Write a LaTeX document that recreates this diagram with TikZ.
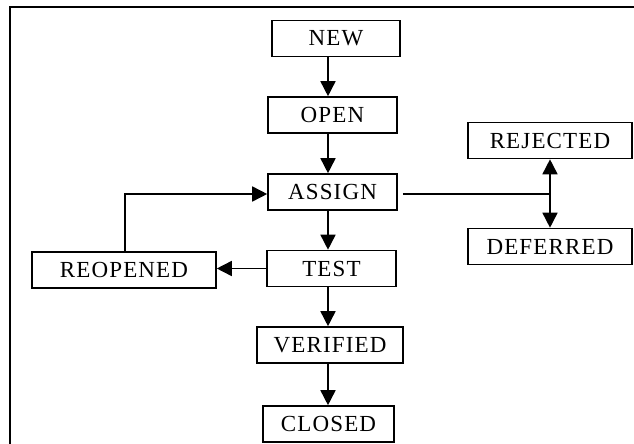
\documentclass[tikz,border=0pt]{standalone}
\usepackage{fontspec}
\setmainfont{Liberation Serif}[LetterSpace=5]
\usetikzlibrary{arrows.meta,positioning}
\tikzstyle{statebox} = [draw, line width=1.6pt, fill=white, text centered, minimum height=36pt, inner sep=0pt, font=\fontsize{23}{27}\selectfont]
\tikzstyle{arrow} = [draw, line width=1.6pt, -{Triangle[width=15pt,length=15pt]}]
\tikzstyle{twoway} = [draw, line width=1.6pt, {Triangle[width=15pt,length=15pt]}-{Triangle[width=15pt,length=15pt]}]
\tikzstyle{line} = [draw, line width=1.6pt]
\tikzstyle{frame} = [draw, line width=2.4pt]
\newcommand{\bugnode}[3]{node (#1) [statebox, minimum width=#2pt] {#3}}

\begin{document}
\begin{tikzpicture}[x=1pt,y=-1pt]
\useasboundingbox (0,0) rectangle (634,444);
\path [frame] (10,444) -- (10,7) -- (634,7);
\coordinate (spine) at (328,0);

\path (336,38.5) \bugnode{new}{128}{NEW};
\path (new)+(-3.5,76.5) \bugnode{open}{129}{OPEN};
\path [arrow] (new.south -| spine) -- (open.north -| spine) node[] {};
\path (open)+(0,77) \bugnode{assign}{129}{ASSIGN};
\path [arrow] (open.south -| spine) -- (assign.north -| spine) node[] {};
\path (assign)+(-1,76.5) \bugnode{test}{129}{TEST};
\path [arrow] (assign.south -| spine) -- (test.north -| spine) node[] {};
\path (test)+(-1.5,76.5) \bugnode{verified}{146}{VERIFIED};
\path [arrow] (test.south -| spine) -- (verified.north -| spine) node[] {};
\path (verified)+(-1.5,79) \bugnode{closed}{131}{CLOSED};
\path [arrow] (verified.south -| spine) -- (closed.north -| spine) node[] {};

\path (test)+(-207.5,1.5) \bugnode{reopened}{184}{REOPENED};
\path [arrow] (test.west) -- (test.west -| reopened.east) node[] {};
\path [arrow] ([xshift=1pt]reopened.north) |- ([yshift=-2pt]assign.west) node[] {};

\path (assign)+(217.5,-51.5) \bugnode{rejected}{164}{REJECTED};
\path (rejected)+(0,106) \bugnode{deferred}{164}{DEFERRED};
\path [line] ([xshift=5pt,yshift=-2pt]assign.east) -- ([yshift=-2pt]assign.east -| rejected.south) node[] {};
\path [twoway] (rejected.south) -- (deferred.north) node[] {};
\end{tikzpicture}
\end{document}
